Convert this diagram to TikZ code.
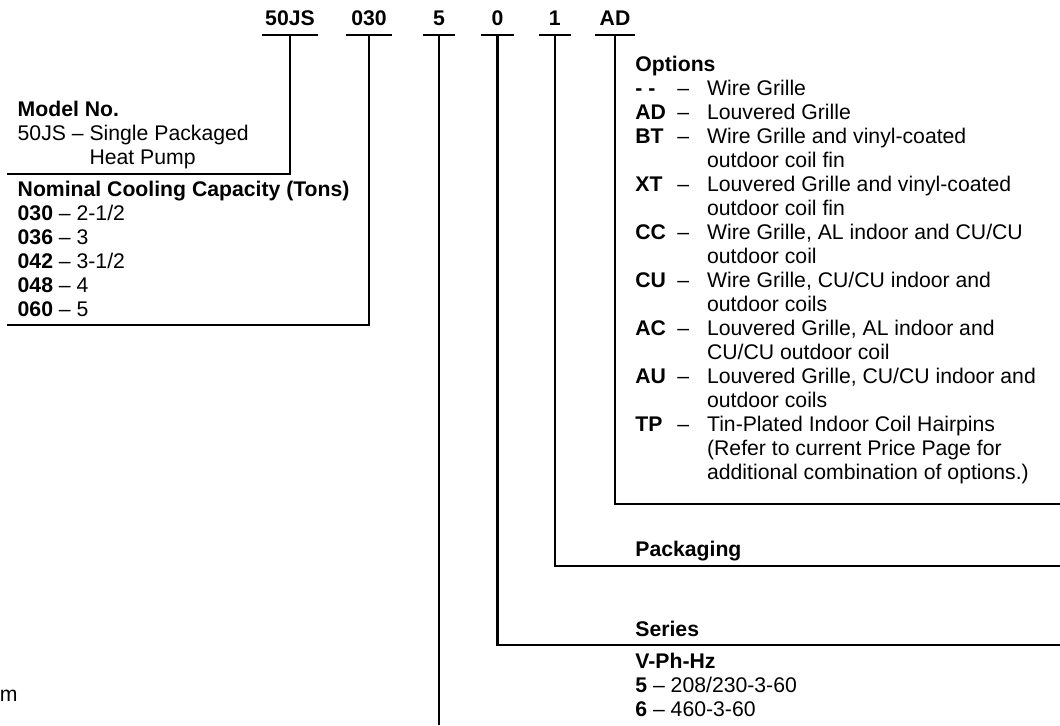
\documentclass[tikz,border=0pt]{standalone}
\usepackage{fontspec}
\setmainfont{Liberation Sans}
\usepackage{array}
\newcommand{\codefont}{\fontsize{10.6}{12}\selectfont}

\begin{document}
\begin{tikzpicture}[
  x=0.5pt,y=-0.5pt,
  digit/.style={font=\codefont\bfseries,anchor=south,inner xsep=0pt,
    inner ysep=4.5pt,text depth=0pt},
  legend/.style={font=\codefont,align=left,anchor=base west,inner sep=0pt},
  leader/.style={line width=1.1pt}
]
  \useasboundingbox (0,0) rectangle (1060,725);
  % Model number digits
  \node[digit,minimum width=28pt] (model) at (290,35) {50JS};
  \node[digit,minimum width=23pt] (cap) at (369,35) {030};
  \node[digit,minimum width=16pt] (volt) at (439,35) {5};
  \node[digit,minimum width=16pt] (series) at (497.5,35) {0};
  \node[digit,minimum width=15.5pt] (pack) at (554.7,35) {1};
  \node[digit,minimum width=19.3pt] (opt) at (615,35) {AD};
  \foreach \d in {model,cap,volt,series,pack,opt}
    \draw[leader] (\d.south west) -- (\d.south east);

  % Left legends (base = last line)
  \node[legend] (modeltxt) at (17.3,164.3) {\textbf{Model No.}\\
    50JS -- Single Packaged\\\phantom{50JS -- }Heat Pump};
  \node[legend] (captxt) at (17.3,316) {\textbf{Nominal Cooling Capacity (Tons)}\\
    \textbf{030} -- 2-1/2\\\textbf{036} -- 3\\\textbf{042} -- 3-1/2\\
    \textbf{048} -- 4\\\textbf{060} -- 5};
  \node[legend] (crop) at (-0.5,701) {m};

  % Right legends
  \node[legend] (opttxt) at (635,71.7) {%
    \begin{tabular}[t]{@{}>{\bfseries}p{21pt}@{}p{14.85pt}@{}l@{}}
      \multicolumn{3}{@{}l@{}}{\textbf{Options}}\\
      - - & -- & Wire Grille\\
      AD & -- & Louvered Grille\\
      BT & -- & Wire Grille and vinyl-coated\\
         &    & outdoor coil fin\\
      XT & -- & Louvered Grille and vinyl-coated\\
         &    & outdoor coil fin\\
      CC & -- & Wire Grille, AL indoor and CU/CU\\
         &    & outdoor coil\\
      CU & -- & Wire Grille, CU/CU indoor and\\
         &    & outdoor coils\\
      AC & -- & Louvered Grille, AL indoor and\\
         &    & CU/CU outdoor coil\\
      AU & -- & Louvered Grille, CU/CU indoor and\\
         &    & outdoor coils\\
      TP & -- & Tin-Plated Indoor Coil Hairpins\\
         &    & (Refer to current Price Page for\\
         &    & additional combination of options.)
    \end{tabular}};
  \node[legend,font=\codefont\bfseries] (packtxt) at (635,556) {Packaging};
  \node[legend,font=\codefont\bfseries] (seriestxt) at (635,636) {Series};
  \node[legend] (volttxt) at (635,716.7) {\textbf{V-Ph-Hz}\\
    \textbf{5} -- 208/230-3-60\\\textbf{6} -- 460-3-60};

  % Leader lines
  \coordinate (modelend) at (6.5,174);
  \coordinate (capend) at (6.5,325);
  \coordinate (voltend) at (439,725);
  \coordinate (seriesend) at (1060,645);
  \coordinate (packend) at (1060,566);
  \coordinate (optend) at (1060,504);
  \draw[leader] (model.south) |- (modelend);
  \draw[leader] (cap.south) |- (capend);
  \draw[leader] (volt.south) -- (voltend);
  \draw[leader] (series.south) |- (seriesend);
  \draw[leader] (pack.south) |- (packend);
  \draw[leader] (opt.south) |- (optend);
\end{tikzpicture}
\end{document}
